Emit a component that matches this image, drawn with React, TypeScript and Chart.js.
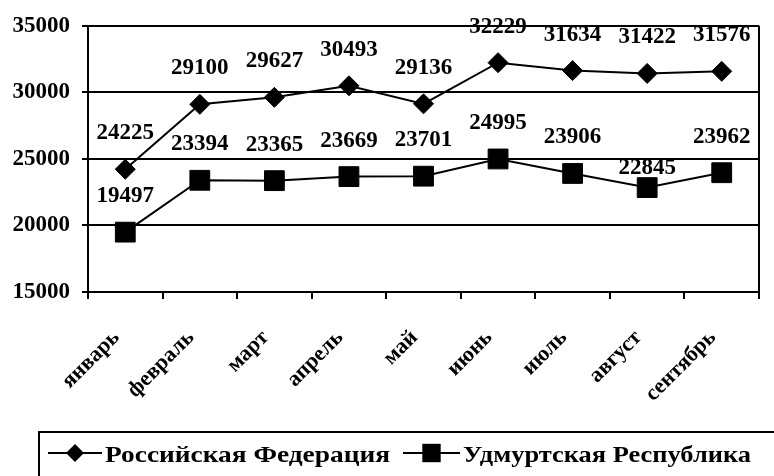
import React, { useEffect, useRef } from "react";
import { Chart, registerables } from "chart.js";

Chart.register(...registerables);

const categories = ["январь", "февраль", "март", "апрель", "май", "июнь", "июль", "август", "сентябрь"];
const russiaValues = [24225, 29100, 29627, 30493, 29136, 32229, 31634, 31422, 31576];
const udmurtiaValues = [19497, 23394, 23365, 23669, 23701, 24995, 23906, 22845, 23962];
const seriesNames = ["Российская Федерация", "Удмуртская Республика"];
const yMin = 15000;
const yMax = 35000;
const yStep = 5000;

const FONT = '"Liberation Serif", "Times New Roman", Times, serif';

const framePlugin = {
  id: "frame",
  beforeDatasetsDraw(chart: any) {
    const { ctx, chartArea } = chart;
    ctx.save();
    ctx.strokeStyle = "#000";
    ctx.lineWidth = 2;
    ctx.beginPath();
    ctx.moveTo(chartArea.right, chartArea.top);
    ctx.lineTo(chartArea.right, chartArea.bottom);
    ctx.stroke();
    ctx.restore();
  },
};

const labelPlugin = {
  id: "valueLabels",
  afterDatasetsDraw(chart: any) {
    const { ctx } = chart;
    ctx.save();
    ctx.fillStyle = "#000";
    ctx.font = `bold 23px ${FONT}`;
    ctx.textAlign = "center";
    ctx.textBaseline = "middle";
    chart.data.datasets.forEach((ds: any, di: number) => {
      const meta = chart.getDatasetMeta(di);
      meta.data.forEach((pt: any, i: number) => {
        let off = 36;
        if (di === 1 && i === 7) off = 20;
        ctx.fillText(String(ds.data[i]), pt.x, pt.y - off);
      });
    });
    ctx.restore();
  },
};

const legendPlugin = {
  id: "boxLegend",
  afterDraw(chart: any) {
    const { ctx } = chart;
    ctx.save();
    ctx.strokeStyle = "#000";
    ctx.lineWidth = 2;
    ctx.strokeRect(39, 432, 760, 60);
    const items = [
      { lineX: 48, lineW: 54, textX: 105, textW: 285, style: "rectRot", r: 9 },
      { lineX: 403, lineW: 57, textX: 463, textW: 288, style: "rect", r: 13 },
    ];
    const cy = 453;
    items.forEach((it, i) => {
      ctx.strokeStyle = "#000";
      ctx.lineWidth = 2;
      ctx.beginPath();
      ctx.moveTo(it.lineX, cy);
      ctx.lineTo(it.lineX + it.lineW, cy);
      ctx.stroke();
      ctx.fillStyle = "#000";
      const px = it.lineX + it.lineW / 2;
      if (it.style === "rectRot") {
        ctx.beginPath();
        ctx.moveTo(px - it.r, cy);
        ctx.lineTo(px, cy - it.r);
        ctx.lineTo(px + it.r, cy);
        ctx.lineTo(px, cy + it.r);
        ctx.closePath();
        ctx.fill();
      } else {
        const h = it.r * Math.SQRT1_2;
        ctx.fillRect(px - h, cy - h, 2 * h, 2 * h);
      }
      ctx.font = `bold 23px ${FONT}`;
      ctx.textAlign = "left";
      ctx.textBaseline = "alphabetic";
      const text = chart.data.datasets[i].label;
      const w = ctx.measureText(text).width;
      ctx.save();
      ctx.translate(it.textX, 462);
      ctx.scale(it.textW / w, 1);
      ctx.fillText(text, 0, 0);
      ctx.restore();
    });
    ctx.restore();
  },
};

export default function App() {
  const ref = useRef<HTMLCanvasElement | null>(null);
  useEffect(() => {
    document.body.style.margin = "0";
    const canvas = ref.current;
    if (!canvas) return;
    let chart: any = null;
    let cancelled = false;
    const build = () => {
      if (cancelled) return;
      chart = new Chart(canvas, {
        type: "line",
        data: {
          labels: categories,
          datasets: [
            {
              label: seriesNames[0],
              data: russiaValues,
              borderColor: "#000",
              backgroundColor: "#000",
              borderWidth: 2,
              pointStyle: "rectRot",
              pointRadius: 10,
              pointBorderWidth: 1,
              pointBackgroundColor: "#000",
              pointBorderColor: "#000",
            },
            {
              label: seriesNames[1],
              data: udmurtiaValues,
              borderColor: "#000",
              backgroundColor: "#000",
              borderWidth: 2,
              pointStyle: "rect",
              pointRadius: 14,
              pointBorderWidth: 1,
              pointBackgroundColor: "#000",
              pointBorderColor: "#000",
            },
          ],
        },
        options: {
          responsive: false,
          animation: false,
          layout: { padding: { top: 21, right: 3, left: 0, bottom: 0 } },
          plugins: { legend: { display: false }, tooltip: { enabled: false } },
          scales: {
            x: {
              type: "category",
              offset: true,
              grid: {
                offset: true,
                drawOnChartArea: false,
                drawTicks: true,
                tickLength: 7,
                color: "#000",
                lineWidth: 2,
              },
              border: { display: true, color: "#000", width: 2 },
              ticks: {
                minRotation: 45,
                maxRotation: 45,
                autoSkip: false,
                color: "#000",
                padding: 26,
                labelOffset: -9,
                font: { family: FONT, size: 22, weight: "bold" },
              },
              afterFit: (scale: any) => {
                scale.height = 184;
              },
            },
            y: {
              min: yMin,
              max: yMax,
              grid: {
                color: "#000",
                lineWidth: 2,
                tickLength: 6,
                drawTicks: true,
              },
              border: { display: true, color: "#000", width: 2 },
              ticks: {
                stepSize: yStep,
                color: "#000",
                padding: 12,
                font: { family: FONT, size: 23, weight: "bold" },
                callback: (v: any) => String(v),
              },
              afterFit: (scale: any) => {
                scale.width = 88;
              },
            },
          },
        },
        plugins: [framePlugin, labelPlugin, legendPlugin],
      } as any);
    };
    const fontsApi = (document as any).fonts;
    if (fontsApi && fontsApi.load) {
      Promise.all([
        fontsApi.load(`bold 23px "Liberation Serif"`, "0123456789абв"),
        fontsApi.load(`23px "Liberation Serif"`, "0123456789абв"),
      ])
        .catch(() => null)
        .then(build);
    } else {
      build();
    }
    return () => {
      cancelled = true;
      if (chart) chart.destroy();
    };
  }, []);
  return (
    <div style={{ position: "absolute", left: 0, top: 0, width: 774, height: 476 }}>
      <canvas ref={ref} width={774} height={476} />
    </div>
  );
}
